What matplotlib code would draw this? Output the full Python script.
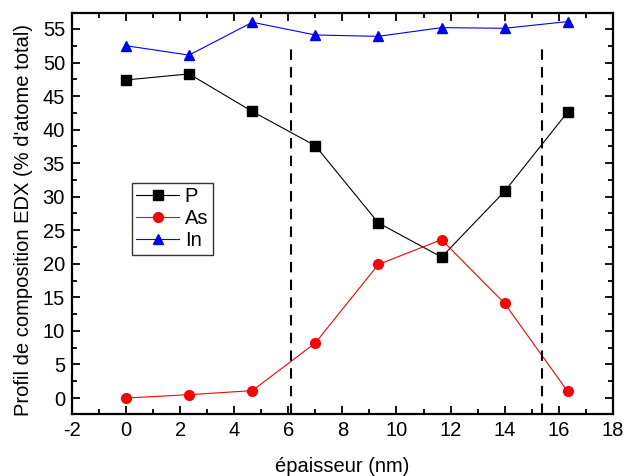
import matplotlib
matplotlib.use("Agg")
import matplotlib.pyplot as plt
from matplotlib.ticker import MultipleLocator

# thickness positions (nm)
epaisseur = [0, 2.33, 4.67, 7.0, 9.33, 11.67, 14.0, 16.33]
p_vals = [47.4, 48.3, 42.7, 37.6, 26.1, 21.0, 30.8, 42.6]
as_vals = [0.0, 0.5, 1.1, 8.2, 19.9, 23.6, 14.1, 1.0]
in_vals = [52.5, 51.1, 56.0, 54.1, 53.9, 55.2, 55.1, 56.1]
interfaces = [6.1, 15.37]
interface_top = 52.6

plt.rcParams["font.family"] = ["Liberation Sans", "DejaVu Sans"]
plt.rcParams["axes.unicode_minus"] = False

fig = plt.figure(figsize=(6.24, 4.76), dpi=100)
ax = fig.add_axes([0.1154, 0.130, 0.8666, 0.843])

ax.plot(epaisseur, p_vals, color="black", lw=0.8, marker="s", ms=6.5, label="P")
ax.plot(epaisseur, as_vals, color="red", lw=0.8, marker="o", ms=7, label="As")
ax.plot(epaisseur, in_vals, color="blue", lw=0.8, marker="^", ms=7.5, label="In")

for xv in interfaces:
    ax.plot([xv, xv], [-2.4, interface_top], color="black", lw=1.5,
            linestyle=(0, (5, 3.5)))

ax.set_xlim(-2, 18)
ax.set_ylim(-2.4, 57.4)
ax.xaxis.set_major_locator(MultipleLocator(2))
ax.xaxis.set_minor_locator(MultipleLocator(1))
ax.yaxis.set_major_locator(MultipleLocator(5))
ax.yaxis.set_minor_locator(MultipleLocator(2.5))
ax.tick_params(which="both", direction="in", top=True, right=True,
               labelsize=14.5, width=1.3)
ax.tick_params(which="major", length=6, pad=5)
ax.tick_params(which="minor", length=3.5)
for s in ax.spines.values():
    s.set_linewidth(1.6)

ax.set_xlabel("épaisseur (nm)", fontsize=14.5, labelpad=12)
ax.set_ylabel("Profil de composition EDX (% d'atome total)", fontsize=14.5)
ax.yaxis.set_label_coords(-0.072, 0.484)

leg = ax.legend(loc="upper left", bbox_to_anchor=(0.111, 0.576), fontsize=14.5,
                frameon=True, fancybox=False, edgecolor="black",
                borderpad=0.22, labelspacing=0.15, handlelength=2.1,
                handletextpad=0.3, borderaxespad=0)
leg.get_frame().set_linewidth(1.0)

fig.savefig("out.png", dpi=100)
